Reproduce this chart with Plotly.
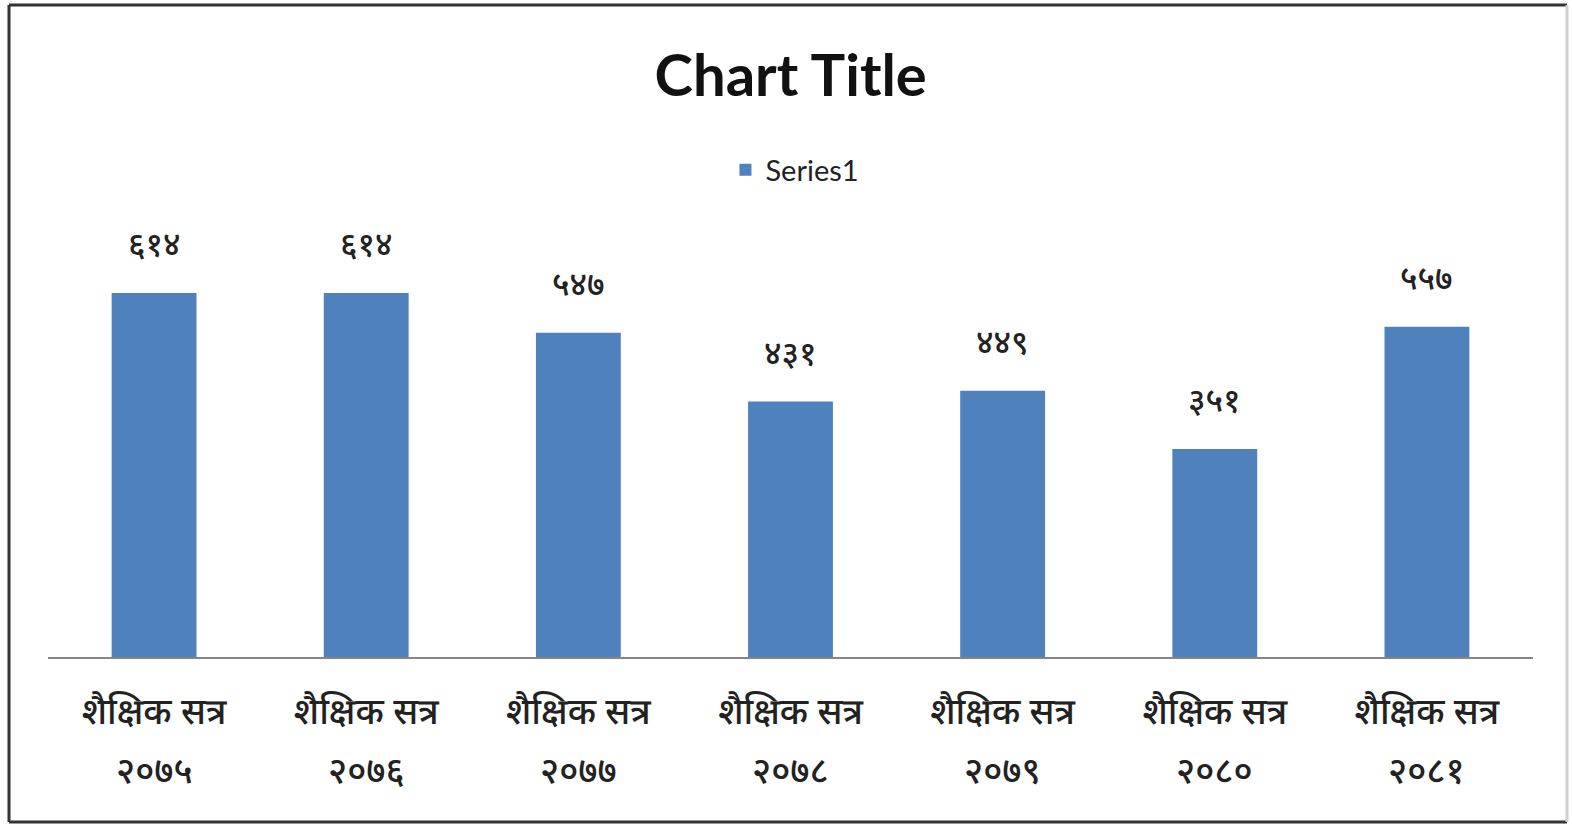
import plotly.graph_objects as go

session_label = "शैक्षिक सत्र"
years = ["२०७५", "२०७६", "२०७७", "२०७८", "२०७९", "२०८०", "२०८१"]
categories = [session_label + " " + y for y in years]
values = [614, 614, 547, 431, 449, 351, 557]
value_labels = ["६१४", "६१४", "५४७", "४३१", "४४९", "३५१", "५५७"]

W, H = 1572, 825
ml, mr, mt, mb = 48, 39, 242, 168
pw, ph = W - ml - mr, H - mt - mb
DEV = "Noto Sans Devanagari, Noto Sans, sans-serif"

fig = go.Figure()
fig.add_trace(go.Bar(
    x=categories, y=values, name="Series1",
    marker=dict(color="#4F81BD", line=dict(width=0)),
    width=0.4,
    cliponaxis=False,
))

# value labels above bars
for c, v, t in zip(categories, values, value_labels):
    fig.add_annotation(x=c, y=v, text=t, showarrow=False,
                       yanchor="middle", yshift=45,
                       font=dict(size=33, color="#222222", family=DEV, weight=500))
# second line of category labels (year)
for c, y in zip(categories, years):
    fig.add_annotation(x=c, y=0, yref="y", text=y, showarrow=False,
                       yanchor="middle", yshift=-(774 - 657),
                       font=dict(size=36, color="#222222", family=DEV, weight=500))

fig.update_layout(
    width=W, height=H,
    margin=dict(l=ml, r=mr, t=mt, b=mb),
    paper_bgcolor="white", plot_bgcolor="white",
    title=dict(text="<b>Chart Title</b>", x=0.503, xanchor="center", y=1 - 76 / H, yanchor="middle",
               font=dict(size=58, color="#111111", family="Lato, Open Sans, sans-serif")),
    showlegend=True,
    legend=dict(orientation="h", x=0.503, xanchor="center", y=1 - 170 / H, yref="container",
                yanchor="middle", font=dict(size=29, color="#222222", family="Lato, Open Sans, sans-serif"),
                itemwidth=30),
    xaxis=dict(showline=True, linecolor="#868686", linewidth=2, ticks="", showgrid=False,
               tickmode="array", tickvals=categories,
               ticktext=[session_label] * len(categories),
               tickfont=dict(size=36, color="#222222", family=DEV, weight=500),
               ticklabelstandoff=22),
    yaxis=dict(range=[0, 700], visible=False, showgrid=False),
    bargap=0.6,
)

# outer frame: dark top/left/bottom, light right edge
def px(x):
    return (x - ml) / pw

def py(y):
    return (H - mb - y) / ph

for x0, y0, x1, y1, col in [
    (9, 5, 1567, 5, "#333333"),
    (9, 5, 9, 822, "#333333"),
    (9, 822, 1567, 822, "#333333"),
    (1567, 5, 1567, 822, "#d0d0d0"),
]:
    fig.add_shape(type="line", xref="paper", yref="paper",
                  x0=px(x0), y0=py(y0), x1=px(x1), y1=py(y1),
                  line=dict(color=col, width=3), layer="above")

fig.write_html("out.html", config={"displayModeBar": False},
               post_script="document.body.style.margin='0';document.body.style.overflow='hidden';")
